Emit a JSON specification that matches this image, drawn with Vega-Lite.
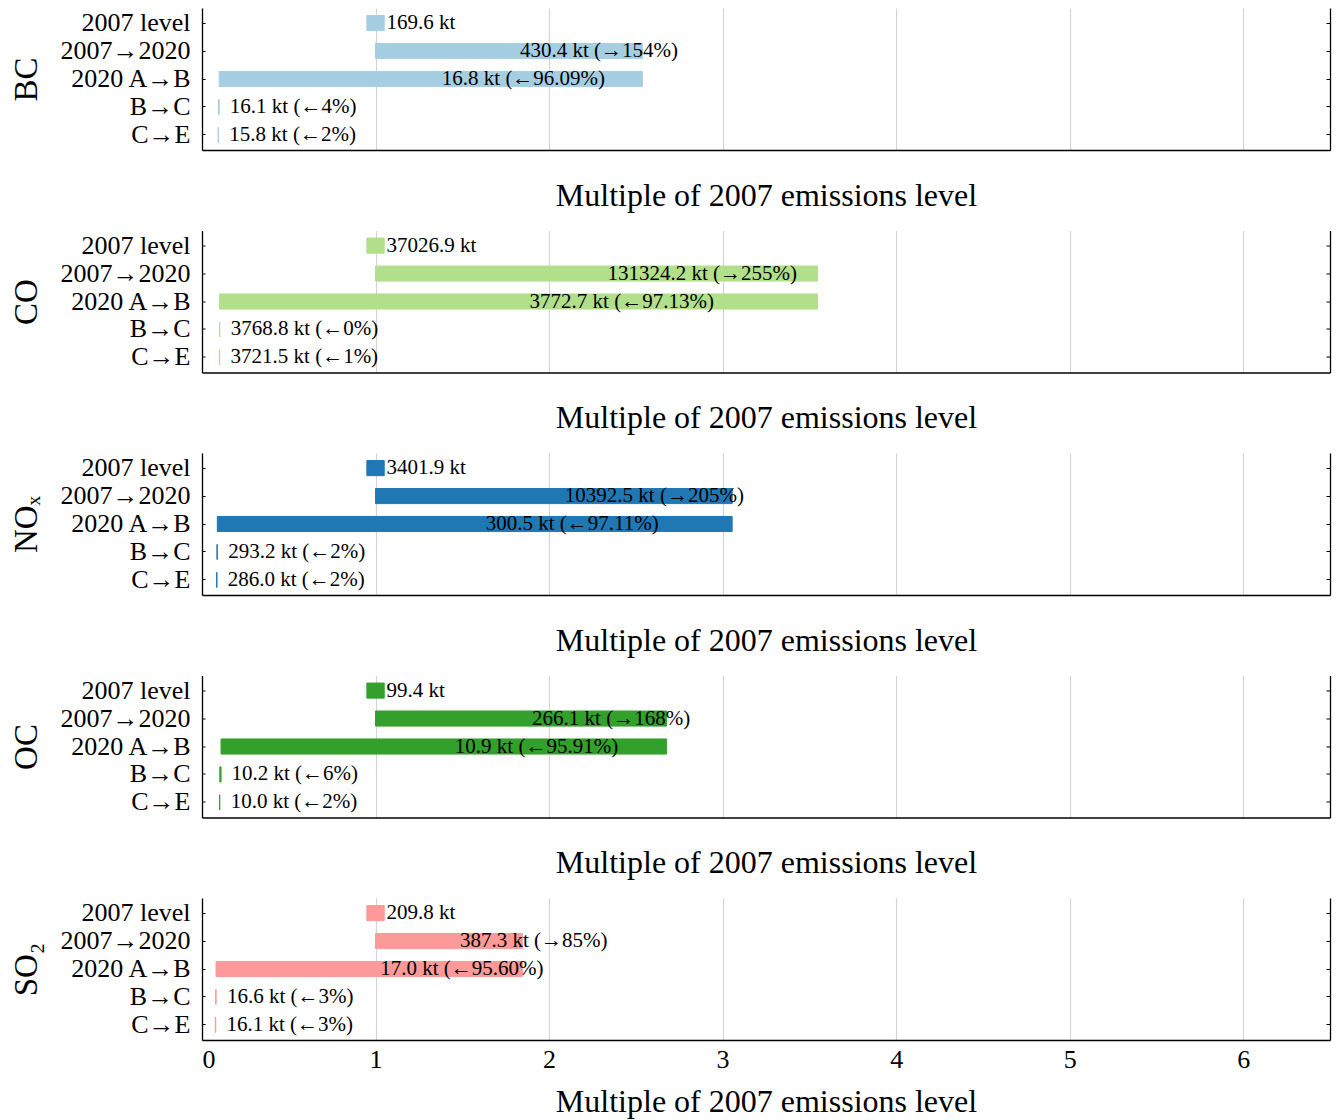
{
  "$schema": "https://vega.github.io/schema/vega-lite/v6.json",
  "padding": {"top": 8, "left": 10, "right": 4, "bottom": 4},
  "background": "white",
  "data": {"values": [
    {"p": "BC", "step": "2007 level", "start": 0.95, "end": 1.05, "label": "169.6 kt"},
    {"p": "BC", "step": "2007→2020", "start": 1, "end": 2.5377, "label": "430.4 kt (→154%)"},
    {"p": "BC", "step": "2020 A→B", "start": 0.0991, "end": 2.5377, "label": "16.8 kt (←96.09%)"},
    {"p": "BC", "step": "B→C", "start": 0.0949, "end": 0.0991, "label": "16.1 kt (←4%)"},
    {"p": "BC", "step": "C→E", "start": 0.0932, "end": 0.0949, "label": "15.8 kt (←2%)"},
    {"p": "CO", "step": "2007 level", "start": 0.95, "end": 1.05, "label": "37026.9 kt"},
    {"p": "CO", "step": "2007→2020", "start": 1, "end": 3.5467, "label": "131324.2 kt (→255%)"},
    {"p": "CO", "step": "2020 A→B", "start": 0.1019, "end": 3.5467, "label": "3772.7 kt (←97.13%)"},
    {"p": "CO", "step": "B→C", "start": 0.1018, "end": 0.1019, "label": "3768.8 kt (←0%)"},
    {"p": "CO", "step": "C→E", "start": 0.1005, "end": 0.1018, "label": "3721.5 kt (←1%)"},
    {"p": "NOx", "step": "2007 level", "start": 0.95, "end": 1.05, "label": "3401.9 kt"},
    {"p": "NOx", "step": "2007→2020", "start": 1, "end": 3.0549, "label": "10392.5 kt (→205%)"},
    {"p": "NOx", "step": "2020 A→B", "start": 0.0883, "end": 3.0549, "label": "300.5 kt (←97.11%)"},
    {"p": "NOx", "step": "B→C", "start": 0.0862, "end": 0.0883, "label": "293.2 kt (←2%)"},
    {"p": "NOx", "step": "C→E", "start": 0.0841, "end": 0.0862, "label": "286.0 kt (←2%)"},
    {"p": "OC", "step": "2007 level", "start": 0.95, "end": 1.05, "label": "99.4 kt"},
    {"p": "OC", "step": "2007→2020", "start": 1, "end": 2.6771, "label": "266.1 kt (→168%)"},
    {"p": "OC", "step": "2020 A→B", "start": 0.1097, "end": 2.6771, "label": "10.9 kt (←95.91%)"},
    {"p": "OC", "step": "B→C", "start": 0.1026, "end": 0.1097, "label": "10.2 kt (←6%)"},
    {"p": "OC", "step": "C→E", "start": 0.1006, "end": 0.1026, "label": "10.0 kt (←2%)"},
    {"p": "SO2", "step": "2007 level", "start": 0.95, "end": 1.05, "label": "209.8 kt"},
    {"p": "SO2", "step": "2007→2020", "start": 1, "end": 1.846, "label": "387.3 kt (→85%)"},
    {"p": "SO2", "step": "2020 A→B", "start": 0.081, "end": 1.846, "label": "17.0 kt (←95.60%)"},
    {"p": "SO2", "step": "B→C", "start": 0.0791, "end": 0.081, "label": "16.6 kt (←3%)"},
    {"p": "SO2", "step": "C→E", "start": 0.0767, "end": 0.0791, "label": "16.1 kt (←3%)"}
  ]},
  "vconcat": [
    {
      "width": 1128, "height": 142,
      "transform": [{"filter": "datum.p === 'BC'"}],
      "resolve": {"axis": {"y": "independent"}},
      "layer": [
        {"mark": {"type": "bar", "color": "#a6cee3", "stroke": "#a6cee3", "strokeWidth": 1},
         "encoding": {
           "y": {"field": "step", "type": "nominal", "sort": ["2007 level", "2007→2020", "2020 A→B", "B→C", "C→E"], "scale": {"paddingInner": 0.46, "paddingOuter": 0.27},
                 "axis": {"title": "BC", "titleFontSize": 33, "titlePadding": 17, "labelFontSize": 26, "labelPadding": 15, "tickSize": -3}},
           "x": {"field": "start", "type": "quantitative", "scale": {"domain": [0, 6.5], "nice": false, "zero": false},
                 "axis": {"title": "Multiple of 2007 emissions level", "values": [0, 1, 2, 3, 4, 5, 6], "format": "d", "labels": false, "ticks": false, "grid": true, "titleFontSize": 32, "titlePadding": 30}},
           "x2": {"field": "end"}}},
        {"transform": [{"fold": ["start", "end"], "as": ["k", "v"]}],
         "mark": {"type": "text", "align": "left", "baseline": "middle", "dx": 11, "fontSize": 21, "font": "Liberation Serif", "color": "#000"},
         "encoding": {
           "y": {"field": "step", "type": "nominal", "sort": ["2007 level", "2007→2020", "2020 A→B", "B→C", "C→E"],
                 "axis": {"orient": "right", "labels": false, "title": null, "tickSize": -4, "grid": false}},
           "x": {"field": "v", "aggregate": "mean", "type": "quantitative", "title": "Multiple of 2007 emissions level"},
           "text": {"field": "label"}}}
      ]
    },
    {
      "width": 1128, "height": 142,
      "transform": [{"filter": "datum.p === 'CO'"}],
      "resolve": {"axis": {"y": "independent"}},
      "layer": [
        {"mark": {"type": "bar", "color": "#b2df8a", "stroke": "#b2df8a", "strokeWidth": 1},
         "encoding": {
           "y": {"field": "step", "type": "nominal", "sort": ["2007 level", "2007→2020", "2020 A→B", "B→C", "C→E"], "scale": {"paddingInner": 0.46, "paddingOuter": 0.27},
                 "axis": {"title": "CO", "titleFontSize": 33, "titlePadding": 17, "labelFontSize": 26, "labelPadding": 15, "tickSize": -3}},
           "x": {"field": "start", "type": "quantitative", "scale": {"domain": [0, 6.5], "nice": false, "zero": false},
                 "axis": {"title": "Multiple of 2007 emissions level", "values": [0, 1, 2, 3, 4, 5, 6], "format": "d", "labels": false, "ticks": false, "grid": true, "titleFontSize": 32, "titlePadding": 30}},
           "x2": {"field": "end"}}},
        {"transform": [{"fold": ["start", "end"], "as": ["k", "v"]}],
         "mark": {"type": "text", "align": "left", "baseline": "middle", "dx": 11, "fontSize": 21, "font": "Liberation Serif", "color": "#000"},
         "encoding": {
           "y": {"field": "step", "type": "nominal", "sort": ["2007 level", "2007→2020", "2020 A→B", "B→C", "C→E"],
                 "axis": {"orient": "right", "labels": false, "title": null, "tickSize": -4, "grid": false}},
           "x": {"field": "v", "aggregate": "mean", "type": "quantitative", "title": "Multiple of 2007 emissions level"},
           "text": {"field": "label"}}}
      ]
    },
    {
      "width": 1128, "height": 142,
      "transform": [{"filter": "datum.p === 'NOx'"}],
      "resolve": {"axis": {"y": "independent"}},
      "layer": [
        {"mark": {"type": "bar", "color": "#1f78b4", "stroke": "#1f78b4", "strokeWidth": 1},
         "encoding": {
           "y": {"field": "step", "type": "nominal", "sort": ["2007 level", "2007→2020", "2020 A→B", "B→C", "C→E"], "scale": {"paddingInner": 0.46, "paddingOuter": 0.27},
                 "axis": {"title": "NOₓ", "titleFontSize": 33, "titlePadding": 17, "labelFontSize": 26, "labelPadding": 15, "tickSize": -3}},
           "x": {"field": "start", "type": "quantitative", "scale": {"domain": [0, 6.5], "nice": false, "zero": false},
                 "axis": {"title": "Multiple of 2007 emissions level", "values": [0, 1, 2, 3, 4, 5, 6], "format": "d", "labels": false, "ticks": false, "grid": true, "titleFontSize": 32, "titlePadding": 30}},
           "x2": {"field": "end"}}},
        {"transform": [{"fold": ["start", "end"], "as": ["k", "v"]}],
         "mark": {"type": "text", "align": "left", "baseline": "middle", "dx": 11, "fontSize": 21, "font": "Liberation Serif", "color": "#000"},
         "encoding": {
           "y": {"field": "step", "type": "nominal", "sort": ["2007 level", "2007→2020", "2020 A→B", "B→C", "C→E"],
                 "axis": {"orient": "right", "labels": false, "title": null, "tickSize": -4, "grid": false}},
           "x": {"field": "v", "aggregate": "mean", "type": "quantitative", "title": "Multiple of 2007 emissions level"},
           "text": {"field": "label"}}}
      ]
    },
    {
      "width": 1128, "height": 142,
      "transform": [{"filter": "datum.p === 'OC'"}],
      "resolve": {"axis": {"y": "independent"}},
      "layer": [
        {"mark": {"type": "bar", "color": "#33a02c", "stroke": "#33a02c", "strokeWidth": 1},
         "encoding": {
           "y": {"field": "step", "type": "nominal", "sort": ["2007 level", "2007→2020", "2020 A→B", "B→C", "C→E"], "scale": {"paddingInner": 0.46, "paddingOuter": 0.27},
                 "axis": {"title": "OC", "titleFontSize": 33, "titlePadding": 17, "labelFontSize": 26, "labelPadding": 15, "tickSize": -3}},
           "x": {"field": "start", "type": "quantitative", "scale": {"domain": [0, 6.5], "nice": false, "zero": false},
                 "axis": {"title": "Multiple of 2007 emissions level", "values": [0, 1, 2, 3, 4, 5, 6], "format": "d", "labels": false, "ticks": false, "grid": true, "titleFontSize": 32, "titlePadding": 30}},
           "x2": {"field": "end"}}},
        {"transform": [{"fold": ["start", "end"], "as": ["k", "v"]}],
         "mark": {"type": "text", "align": "left", "baseline": "middle", "dx": 11, "fontSize": 21, "font": "Liberation Serif", "color": "#000"},
         "encoding": {
           "y": {"field": "step", "type": "nominal", "sort": ["2007 level", "2007→2020", "2020 A→B", "B→C", "C→E"],
                 "axis": {"orient": "right", "labels": false, "title": null, "tickSize": -4, "grid": false}},
           "x": {"field": "v", "aggregate": "mean", "type": "quantitative", "title": "Multiple of 2007 emissions level"},
           "text": {"field": "label"}}}
      ]
    },
    {
      "width": 1128, "height": 142,
      "transform": [{"filter": "datum.p === 'SO2'"}],
      "resolve": {"axis": {"y": "independent"}},
      "layer": [
        {"mark": {"type": "bar", "color": "#fb9a99", "stroke": "#fb9a99", "strokeWidth": 1},
         "encoding": {
           "y": {"field": "step", "type": "nominal", "sort": ["2007 level", "2007→2020", "2020 A→B", "B→C", "C→E"], "scale": {"paddingInner": 0.46, "paddingOuter": 0.27},
                 "axis": {"title": "SO₂", "titleFontSize": 33, "titlePadding": 17, "labelFontSize": 26, "labelPadding": 15, "tickSize": -3}},
           "x": {"field": "start", "type": "quantitative", "scale": {"domain": [0, 6.5], "nice": false, "zero": false},
                 "axis": {"title": "Multiple of 2007 emissions level", "values": [0, 1, 2, 3, 4, 5, 6], "format": "d", "labels": true, "ticks": false, "grid": true, "labelFontSize": 26, "labelPadding": 6, "titleFontSize": 32, "titlePadding": 14}},
           "x2": {"field": "end"}}},
        {"transform": [{"fold": ["start", "end"], "as": ["k", "v"]}],
         "mark": {"type": "text", "align": "left", "baseline": "middle", "dx": 11, "fontSize": 21, "font": "Liberation Serif", "color": "#000"},
         "encoding": {
           "y": {"field": "step", "type": "nominal", "sort": ["2007 level", "2007→2020", "2020 A→B", "B→C", "C→E"],
                 "axis": {"orient": "right", "labels": false, "title": null, "tickSize": -4, "grid": false}},
           "x": {"field": "v", "aggregate": "mean", "type": "quantitative", "title": "Multiple of 2007 emissions level"},
           "text": {"field": "label"}}}
      ]
    }
  ],
  "spacing": 80.5,
  "bounds": "flush",
  "config": {
    "font": "Liberation Serif",
    "view": {"stroke": null},
    "axis": {
      "domainColor": "#000", "domainWidth": 1.3, "tickColor": "#000", "tickWidth": 1,
      "labelColor": "#000", "titleColor": "#000",
      "labelFont": "Liberation Serif", "titleFont": "Liberation Serif", "titleFontWeight": "normal",
      "gridColor": "#d4d4d4", "gridWidth": 1.2
    }
  }
}
